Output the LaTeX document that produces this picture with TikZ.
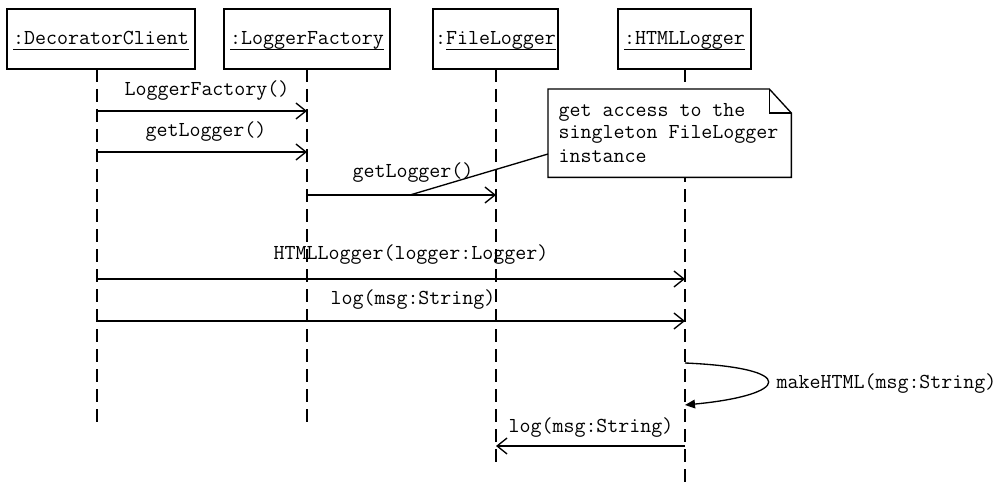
\documentclass[tikz,border=0pt]{standalone}
\usepackage{fontspec}
\usetikzlibrary{arrows.meta}
\newcommand\uln[1]{\setbox0\hbox{#1}\rlap{\rule[-3.75pt]{\wd0}{0.7pt}}\box0}
\begin{document}
\begin{tikzpicture}[x=0.75pt,y=-0.75pt, font=\ttfamily\fontsize{16}{17.25}\selectfont, line width=1pt,
  obj/.style={draw, inner sep=0pt, minimum height=45pt, text height=10pt, text depth=1pt},
  life/.style={dash pattern=on 10pt off 5pt},
  msg/.style={-{Straight Barb[length=7.5pt,width=12pt]}},
  lbl/.style={anchor=base, inner sep=0pt},
  selfmsg/.style={-{Triangle[length=7.5pt,width=6.5pt]}},
  ]
\useasboundingbox (0,0) rectangle (997,485);
% objects
\node[obj, minimum width=141pt] (dc) at (101,39) {\uln{:DecoratorClient}};
\node[obj, minimum width=124.5pt] (lf) at (307,39) {\uln{:LoggerFactory}};
\node[obj, minimum width=93.75pt] (fl) at (495.5,39) {:\uln{FileLogger}};
\node[obj, minimum width=99.75pt] (hl) at (684.5,39) {\uln{:HTMLLogger}};
% lifeline anchors
\coordinate (dcT) at (97,69);  \coordinate (dcB) at (97,428);
\coordinate (lfT) at (307,69); \coordinate (lfB) at (307,428);
\coordinate (flT) at (496,69); \coordinate (flB) at (496,465);
\coordinate (hlT) at (685,69); \coordinate (hlB) at (685,485);
\draw[life] (dcT) -- (dcB);
\draw[life] (lfT) -- (lfB);
\draw[life] (flT) -- (flB);
\draw[life] (hlT) -- (hlB);
% messages
\draw[msg] (dcT |- 0,111) -- (lfT |- 0,111);
\node[lbl] (m1) at (207,96) {LoggerFactory()};
\draw[msg] (dcT |- 0,152) -- (lfT |- 0,152);
\node[lbl] (m2) at (206,137) {getLogger()};
\draw[msg] (lfT |- 0,195) -- (flT |- 0,195);
\node[lbl] (m3) at (413,177) {getLogger()};
\draw[msg] (dcT |- 0,279) -- (hlT |- 0,279);
\node[lbl] (m4) at (411,259) {HTMLLogger(logger:Logger)};
\draw[msg] (dcT |- 0,321) -- (hlT |- 0,321);
\node[lbl] (m5) at (413,304) {log(msg:String)};
\coordinate (s1) at (685,363);
\coordinate (s2) at (685,405);
\draw[selfmsg] (s1) .. controls (800,368) and (790,395) .. (s2);
\node[lbl, anchor=base west] (m6) at (776,388) {makeHTML(msg:String)};
\draw[msg] (hlT |- 0,446) -- (flT |- 0,446);
\node[lbl] (m7) at (591,432) {log(msg:String)};
% note
\node[anchor=north west, inner sep=0pt, minimum width=181.5pt, minimum height=65.25pt] (note) at (548,89) {};
\fill[white] (note.north west) -- ([xshift=-16.5pt]note.north east) -- ([yshift=-18pt]note.north east) -- (note.south east) -- (note.south west) -- cycle;
\draw (note.north west) -- ([xshift=-16.5pt]note.north east) -- ([yshift=-18pt]note.north east) -- (note.south east) -- (note.south west) -- cycle;
\draw ([xshift=-16.5pt]note.north east) -- ([xshift=-16.5pt,yshift=-18pt]note.north east) -- ([yshift=-18pt]note.north east);
\node[anchor=base west, inner sep=0pt, align=left] (notetxt) at (558,162) {get access to the\\singleton FileLogger\\instance};
\coordinate (nc) at (410,195);
\draw (note.west |- 0,154) -- (nc);
\end{tikzpicture}
\end{document}
